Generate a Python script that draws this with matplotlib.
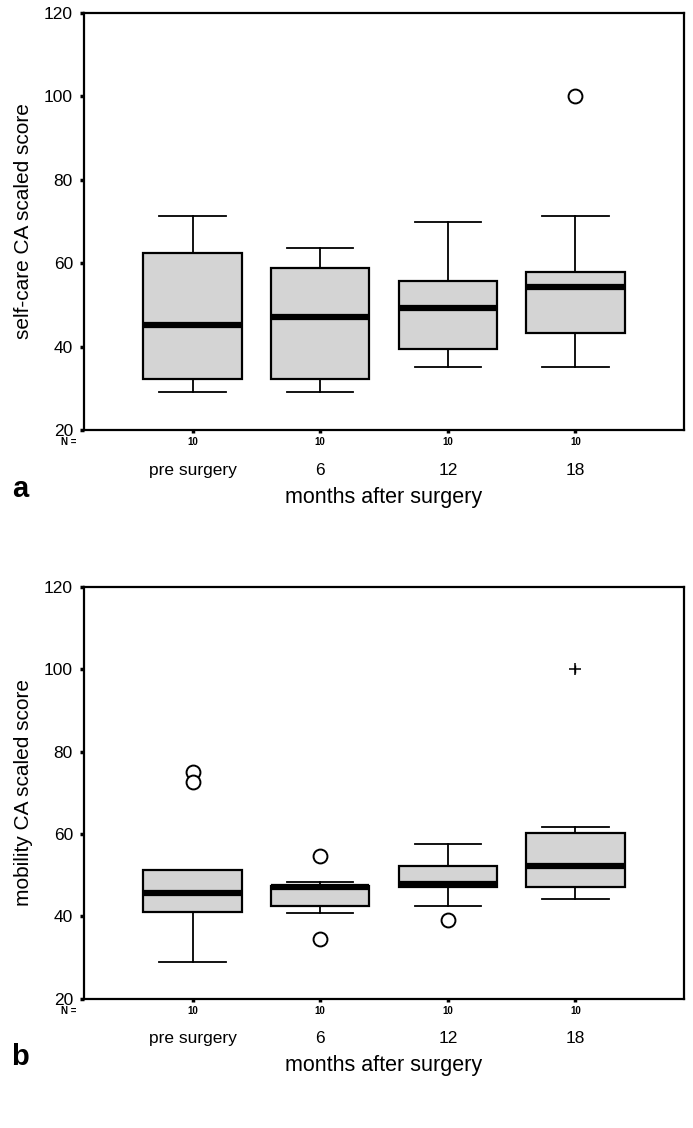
import matplotlib
matplotlib.use("Agg")
import matplotlib.pyplot as plt

plt.rcParams["font.family"] = ["Liberation Sans", "DejaVu Sans"]

# ---------- data ----------
groups = ["pre surgery", "6", "12", "18"]
n_per_group = [10, 10, 10, 10]

# panel a: self-care CA scaled score
a_whislo = [29.1, 29.1, 35.0, 35.0]
a_q1 = [32.2, 32.2, 39.4, 43.2]
a_med = [45.1, 47.2, 49.3, 54.2]
a_q3 = [62.4, 58.9, 55.7, 57.8]
a_whishi = [71.2, 63.6, 69.8, 71.2]
a_outliers = [[], [], [], [100.0]]
a_extremes = [[], [], [], []]

# panel b: mobility CA scaled score
b_whislo = [29.0, 40.9, 42.5, 44.2]
b_q1 = [41.0, 42.5, 47.1, 47.0]
b_med = [45.7, 47.0, 47.8, 52.3]
b_q3 = [51.2, 47.4, 52.3, 60.2]
b_whishi = [51.2, 48.4, 57.5, 61.6]
b_outliers = [[75.0, 72.6], [54.7, 34.5], [39.0], []]
b_extremes = [[], [], [], [100.0]]

W, H = 693, 1128
fig = plt.figure(figsize=(W / 100, H / 100), dpi=100)

BOX_FC = "#d4d4d4"


def panel(rect, whislo, q1, med, q3, whishi, outl, extr, ylabel, letter):
    ax = fig.add_axes(rect)
    pos = list(range(1, len(groups) + 1))
    stats = []
    for i in range(len(groups)):
        stats.append(dict(whislo=whislo[i], q1=q1[i], med=med[i], q3=q3[i],
                          whishi=whishi[i], fliers=outl[i], label=groups[i]))
    ax.bxp(stats, positions=pos, widths=0.77, patch_artist=True,
           capwidths=0.52,
           boxprops=dict(facecolor=BOX_FC, edgecolor="black", linewidth=1.6),
           medianprops=dict(color="black", linewidth=4.5, solid_capstyle="butt"),
           whiskerprops=dict(color="black", linewidth=1.3),
           capprops=dict(color="black", linewidth=1.3),
           flierprops=dict(marker="o", markersize=10, markerfacecolor="white",
                           markeredgecolor="black", markeredgewidth=1.4))
    # extreme values (SPSS star)
    for p, ex in zip(pos, extr):
        if ex:
            ax.plot([p] * len(ex), ex, linestyle="none", marker="+",
                    markersize=9, color="black", markeredgewidth=1.1)
            ax.plot([p] * len(ex), ex, linestyle="none", marker="|",
                    markersize=6, color="black", markeredgewidth=1.0)

    ax.set_xlim(0.15, 4.85)
    ax.set_ylim(20, 120)
    ax.set_yticks([20, 40, 60, 80, 100, 120])
    ax.tick_params(axis="y", direction="out", length=3, width=2.5,
                   labelsize=12.5, pad=5)
    ax.set_xticks(pos)
    ax.set_xticklabels(groups)
    ax.tick_params(axis="x", direction="out", length=2.5, width=2.5,
                   labelsize=12.5, pad=21)
    for s in ax.spines.values():
        s.set_linewidth(1.6)
    ax.set_ylabel(ylabel, fontsize=15, labelpad=8)

    # N = counts under each box
    tr = ax.get_xaxis_transform()
    for p, n in zip(pos, n_per_group):
        ax.text(p, -0.029, str(n), transform=tr, ha="center", va="center",
                fontsize=7, fontweight="bold", clip_on=False)
    ax.text(-0.012, -0.029, "N =", transform=ax.transAxes, ha="right",
            va="center", fontsize=7, fontweight="bold")

    ax.text(0.5, -0.162, "months after surgery", transform=ax.transAxes,
            ha="center", va="center", fontsize=15.5)
    ax.text(-0.107, -0.16, letter, transform=ax.transAxes, ha="center",
            va="baseline", fontsize=21, fontweight="bold")
    return ax


L, R = 84 / W, 684 / W
panel([L, 1 - 430 / H, R - L, 417 / H], a_whislo, a_q1, a_med, a_q3, a_whishi,
      a_outliers, a_extremes, "self-care CA scaled score", "a")
panel([L, 1 - 998.7 / H, R - L, 412 / H], b_whislo, b_q1, b_med, b_q3, b_whishi,
      b_outliers, b_extremes, "mobility CA scaled score", "b")

fig.savefig("out.png", dpi=100, facecolor="white")
